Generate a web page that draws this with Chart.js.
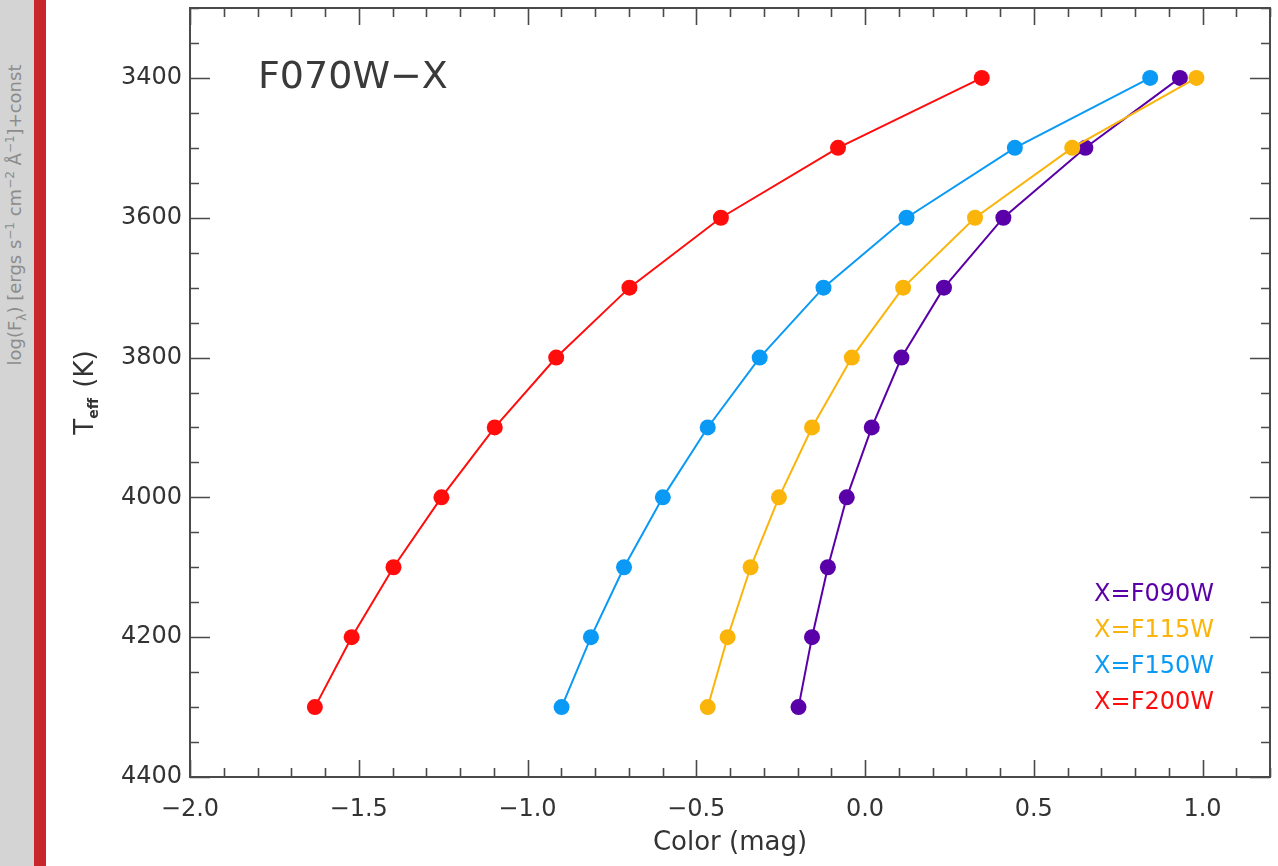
<!DOCTYPE html>
<html>
<head>
<meta charset="utf-8">
<script src="https://cdn.jsdelivr.net/npm/chart.js@4.4.1/dist/chart.umd.min.js"></script>
<style>
  html, body { margin: 0; padding: 0; background: #ffffff; }
  #wrap { position: relative; width: 1278px; height: 866px; overflow: hidden; background: #fff; }
  #c { position: absolute; left: 0; top: 0; }
  #strip { position: absolute; left: 0; top: 0; width: 34px; height: 866px; background: #d4d4d4; }
  #bar { position: absolute; left: 34px; top: 0; width: 12px; height: 866px; background: #c8262a; }
  #sidetext {
    position: absolute; left: 16px; top: 215px; white-space: nowrap;
    transform: translate(-50%, -50%) rotate(-90deg);
    font-family: "DejaVu Sans", sans-serif; font-size: 18px; color: #8c8c8c;
  }
  #sidetext sub, #sidetext sup { font-size: 12px; }
</style>
</head>
<body>
<div id="wrap">
  <canvas id="c" width="1278" height="866"></canvas>
  <div id="strip"></div>
  <div id="bar"></div>
  <div id="sidetext">log(F<sub>λ</sub>) [ergs s<sup>−1</sup> cm<sup>−2</sup> Å<sup>−1</sup>]+const</div>
</div>
<script>
// ---------------- data ----------------
const temps = [3400, 3500, 3600, 3700, 3800, 3900, 4000, 4100, 4200, 4300];
const colorF090W = [0.933, 0.653, 0.410, 0.234, 0.108, 0.020, -0.054, -0.110, -0.157, -0.197];
const colorF115W = [0.982, 0.614, 0.326, 0.113, -0.039, -0.157, -0.255, -0.339, -0.407, -0.466];
const colorF150W = [0.845, 0.444, 0.123, -0.123, -0.312, -0.466, -0.599, -0.714, -0.812, -0.899];
const colorF200W = [0.346, -0.080, -0.427, -0.698, -0.915, -1.097, -1.255, -1.397, -1.521, -1.630];
const seriesLabels = ['X=F090W', 'X=F115W', 'X=F150W', 'X=F200W'];
const seriesColors = ['#5a00a8', '#fbb40a', '#0a9af5', '#ff0d0d'];
const xTickValues = [-2.0, -1.5, -1.0, -0.5, 0.0, 0.5, 1.0];
const yTickValues = [3400, 3600, 3800, 4000, 4200, 4400];
const panelTitle = 'F070W−X';
const xAxisTitle = 'Color (mag)';
const yAxisTitleMain = 'T';
const yAxisTitleSub = 'eff';
const yAxisTitleTail = ' (K)';

const seriesValues = [colorF090W, colorF115W, colorF150W, colorF200W];

const FONT = '"DejaVu Sans", sans-serif';
const TEXT = '#333333';
const AXIS = '#4a4a4a';

const datasets = seriesValues.map((vals, i) => ({
  label: seriesLabels[i],
  data: temps.map((t, j) => ({ x: vals[j], y: t })),
  borderColor: seriesColors[i],
  backgroundColor: seriesColors[i],
  pointBackgroundColor: seriesColors[i],
  pointBorderWidth: 0,
  pointRadius: 8,
  borderWidth: 2,
  showLine: true,
  tension: 0,
  order: 3 - i
}));

const fmt = v => v.toFixed(1).replace('-', '−');

const framePlugin = {
  id: 'frame',
  afterDraw(chart) {
    const { ctx, chartArea: a, scales: { x, y } } = chart;
    ctx.save();
    ctx.strokeStyle = AXIS;
    ctx.lineWidth = 2;
    ctx.strokeRect(a.left, a.top, a.right - a.left, a.bottom - a.top);
    ctx.lineWidth = 1.6;
    ctx.beginPath();
    // x ticks every 0.1, major every 0.5
    for (let k = Math.ceil(x.min * 10); k <= Math.floor(x.max * 10); k++) {
      const px = Math.round(x.getPixelForValue(k / 10)) + 0.5;
      const len = (k % 5 === 0) ? 17 : 9;
      ctx.moveTo(px, a.bottom); ctx.lineTo(px, a.bottom - len);
      ctx.moveTo(px, a.top); ctx.lineTo(px, a.top + len);
    }
    // y ticks every 50, major every 200
    for (let v = Math.ceil(y.min / 50) * 50; v <= y.max; v += 50) {
      const py = Math.round(y.getPixelForValue(v)) + 0.5;
      const len = (v % 200 === 0) ? 20 : 9;
      ctx.moveTo(a.left, py); ctx.lineTo(a.left + len, py);
      ctx.moveTo(a.right, py); ctx.lineTo(a.right - len, py);
    }
    ctx.stroke();

    // panel title
    ctx.fillStyle = '#3a3a3a';
    ctx.font = '38px ' + FONT;
    ctx.textAlign = 'left';
    ctx.textBaseline = 'middle';
    ctx.fillText(panelTitle, a.left + 68, y.getPixelForValue(3400));

    // legend text (right aligned)
    ctx.font = '24px ' + FONT;
    ctx.textAlign = 'right';
    chart.data.datasets.forEach((ds, i) => {
      ctx.fillStyle = ds.borderColor;
      ctx.fillText(ds.label, a.right - 56, 595 + i * 36);
    });

    // x axis title
    ctx.fillStyle = TEXT;
    ctx.font = '26px ' + FONT;
    ctx.textAlign = 'center';
    ctx.textBaseline = 'middle';
    ctx.fillText(xAxisTitle, (a.left + a.right) / 2, 843);

    // y axis title (rotated, with subscript)
    const cx = 84, cy = (a.top + a.bottom) / 2;
    ctx.translate(cx, cy);
    ctx.rotate(-Math.PI / 2);
    ctx.textAlign = 'left';
    ctx.textBaseline = 'alphabetic';
    const bigF = '26px ' + FONT, smallF = 'bold 14px ' + FONT;
    ctx.font = bigF; const w1 = ctx.measureText(yAxisTitleMain).width;
    ctx.font = smallF; const w2 = ctx.measureText(yAxisTitleSub).width;
    ctx.font = bigF; const w3 = ctx.measureText(yAxisTitleTail).width;
    let sx = -(w1 + w2 + w3 + 2) / 2;
    const base = 9;
    ctx.font = bigF; ctx.fillText(yAxisTitleMain, sx, base); sx += w1;
    ctx.font = smallF; ctx.fillText(yAxisTitleSub, sx, base + 5); sx += w2 + 2;
    ctx.font = bigF; ctx.fillText(yAxisTitleTail, sx, base);
    ctx.restore();
  }
};

new Chart(document.getElementById('c'), {
  type: 'scatter',
  data: { datasets },
  options: {
    responsive: false,
    animation: false,
    devicePixelRatio: 1,
    layout: { padding: { top: 7, right: 5, left: 0, bottom: 0 } },
    plugins: { legend: { display: false }, tooltip: { enabled: false }, title: { display: false } },
    scales: {
      x: {
        type: 'linear', min: -2.0, max: 1.2,
        afterBuildTicks: s => { s.ticks = xTickValues.map(v => ({ value: v })); },
        afterFit: s => { s.height = 89; s.paddingLeft = 0; s.paddingRight = 0; },
        grid: { display: false, drawTicks: false },
        border: { display: false },
        ticks: { padding: 18, color: TEXT, font: { family: FONT, size: 24 }, maxRotation: 0, autoSkip: false,
                 callback: v => fmt(v) }
      },
      y: {
        type: 'linear', min: 3300, max: 4400, reverse: true,
        afterBuildTicks: s => { s.ticks = yTickValues.map(v => ({ value: v })); },
        afterFit: s => { s.width = 190; s.paddingTop = 0; s.paddingBottom = 0; },
        grid: { display: false, drawTicks: false },
        border: { display: false },
        ticks: { padding: 8, color: TEXT, font: { family: FONT, size: 24 }, autoSkip: false,
                 callback: v => String(v) }
      }
    }
  },
  plugins: [framePlugin]
});
</script>
</body>
</html>
